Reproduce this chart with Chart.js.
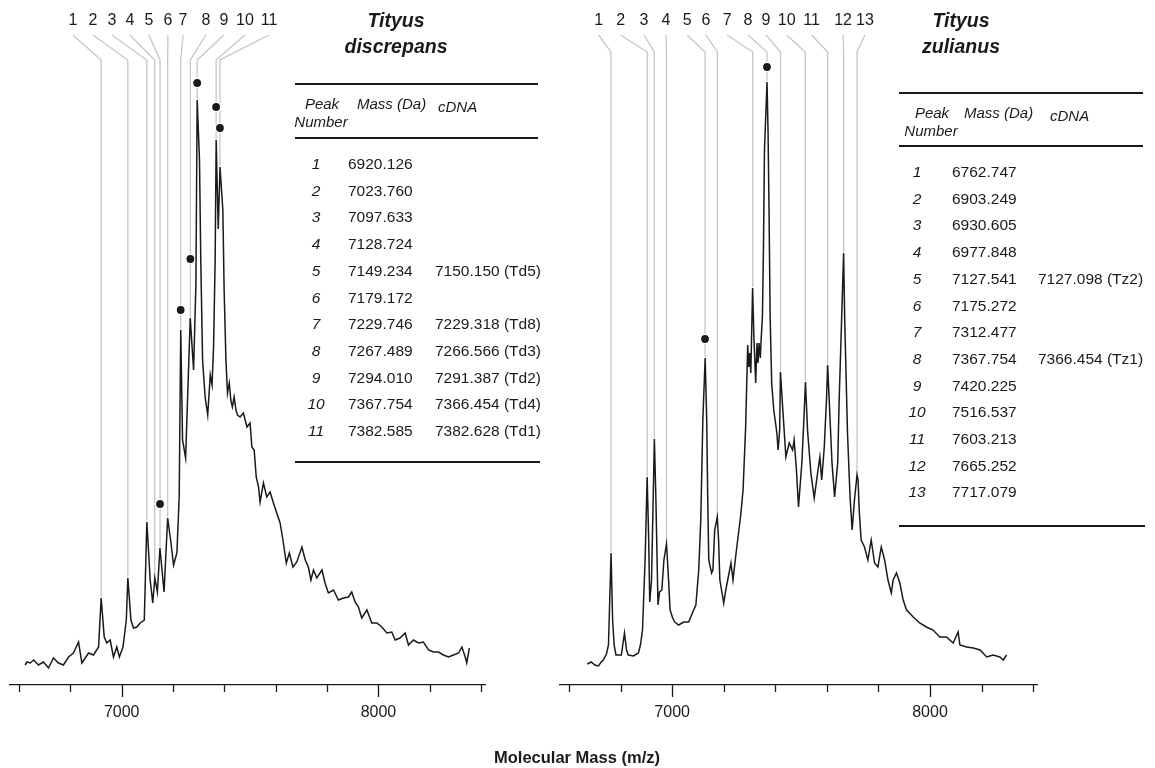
<!DOCTYPE html>
<html>
<head>
<meta charset="utf-8">
<script src="https://cdn.jsdelivr.net/npm/chart.js@4.4.1/dist/chart.umd.min.js"></script>
<style>
  body { margin: 0; background: #fff; }
  #page { position: relative; width: 1155px; height: 768px; overflow: hidden;
          font-family: "Liberation Sans", Arial, Helvetica, sans-serif; color: #1a1a1a; }
  canvas { position: absolute; top: 0; }
  .t { position: absolute; white-space: nowrap; line-height: 1; }
  .title { font-size: 19.5px; font-weight: bold; font-style: italic; }
  .head { font-size: 15px; font-style: italic; }
  .num { font-size: 15.5px; font-style: italic; }
  .val { font-size: 15.5px; }
  .axis { font-size: 16.5px; font-weight: bold; }
  .rule { position: absolute; background: #1a1a1a; }
</style>
</head>
<body>
<div id="page">
  <canvas id="leftChart" width="545" height="768" style="left:0"></canvas>
  <canvas id="rightChart" width="610" height="768" style="left:545px"></canvas>
</div>
<script>
// x axis
const tickValues = [6600, 6800, 7000, 7200, 7400, 7600, 7800, 8000, 8200, 8400];
const massMin = 6565;
const massMax = 8415;
const intensityMax = 640;

// Tityus discrepans spectrum (m/z, relative intensity)
const leftMass = [6624, 6631, 6644, 6657, 6676, 6695, 6715, 6734, 6754, 6773, 6793, 6812, 6832, 6845, 6858, 6871, 6890, 6910,
  6920, 6932, 6942, 6955, 6968, 6981, 6991, 7005, 7018, 7024, 7036, 7046, 7059, 7072, 7088, 7098, 7111, 7121, 7129, 7139,
  7149, 7165, 7179, 7192, 7202, 7215, 7224, 7230, 7237, 7249, 7267, 7280, 7289, 7294, 7303, 7308, 7315, 7325, 7335, 7345,
  7352, 7358, 7364, 7368, 7376, 7383, 7394, 7399, 7406, 7412, 7419, 7425, 7431, 7438, 7445, 7451, 7461, 7474, 7488, 7500,
  7507, 7516, 7524, 7533, 7539, 7552, 7565, 7578, 7591, 7604, 7617, 7628, 7641, 7653, 7667, 7682, 7702, 7715, 7727, 7737,
  7747, 7760, 7780, 7792, 7805, 7825, 7844, 7864, 7883, 7896, 7909, 7922, 7935, 7955, 7974, 7994, 8013, 8033, 8052, 8065,
  8084, 8104, 8117, 8136, 8156, 8175, 8195, 8214, 8234, 8253, 8273, 8292, 8312, 8325, 8338, 8344, 8354];
const leftIntensity = [20, 23, 22, 25, 20, 23, 17, 27, 22, 20, 28, 32, 43, 22, 27, 32, 30, 38,
  87, 48, 42, 45, 28, 38, 28, 38, 65, 107, 65, 57, 58, 62, 65, 163, 105, 82, 107, 93,
  137, 93, 167, 142, 120, 132, 188, 355, 245, 227, 367, 315, 400, 585, 525, 425, 325, 288, 270, 310,
  300, 340, 425, 545, 456, 518, 475, 395, 325, 292, 302, 285, 278, 288, 275, 270, 268, 272, 258, 262,
  238, 235, 208, 198, 183, 202, 188, 193, 182, 172, 162, 145, 122, 132, 118, 123, 138, 125, 118, 105,
  115, 107, 115, 102, 92, 95, 85, 87, 88, 93, 83, 78, 67, 75, 62, 62, 58, 52, 53, 45,
  47, 52, 40, 45, 42, 43, 35, 33, 33, 30, 28, 30, 32, 38, 28, 22, 37];

// Tityus zulianus spectrum
const rightMass = [6671, 6686, 6700, 6714, 6725, 6733, 6745, 6753, 6763, 6769, 6775, 6782, 6792, 6803, 6815, 6823, 6830, 6850,
  6869, 6877, 6885, 6895, 6903, 6909, 6913, 6920, 6931, 6937, 6945, 6951, 6960, 6968, 6978, 6984, 6992, 7002, 7010, 7025,
  7045, 7064, 7080, 7092, 7103, 7111, 7119, 7128, 7134, 7138, 7142, 7153, 7158, 7165, 7175, 7180, 7185, 7200, 7208, 7228,
  7236, 7247, 7266, 7275, 7285, 7293, 7297, 7301, 7305, 7312, 7317, 7324, 7329, 7333, 7337, 7342, 7345, 7350, 7354, 7358,
  7368, 7372, 7376, 7380, 7386, 7394, 7402, 7406, 7411, 7417, 7420, 7430, 7441, 7454, 7467, 7473, 7482, 7490, 7503, 7512,
  7517, 7525, 7538, 7551, 7564, 7573, 7580, 7590, 7599, 7603, 7609, 7620, 7630, 7642, 7648, 7656, 7665, 7669, 7680, 7690,
  7698, 7707, 7717, 7721, 7726, 7733, 7746, 7759, 7772, 7785, 7798, 7811, 7824, 7837, 7850, 7857, 7870, 7883, 7896, 7909,
  7935, 7960, 7986, 8012, 8038, 8064, 8090, 8109, 8116, 8142, 8168, 8194, 8220, 8245, 8271, 8284, 8297];
const rightIntensity = [21, 23, 20, 19, 23, 25, 31, 40, 132, 65, 40, 30, 30, 30, 52, 35, 30, 29,
  32, 40, 55, 125, 208, 145, 83, 105, 246, 185, 80, 93, 95, 125, 141, 115, 75, 67, 63, 60,
  63, 63, 73, 80, 115, 165, 265, 327, 265, 185, 125, 112, 115, 155, 168, 145, 105, 82, 95, 122,
  105, 130, 170, 195, 258, 340, 318, 332, 312, 397, 348, 302, 342, 322, 342, 327, 345, 368, 435, 535,
  603, 552, 468, 368, 302, 275, 260, 252, 235, 255, 313, 272, 228, 242, 235, 245, 215, 178, 222, 272,
  303, 255, 212, 187, 212, 228, 205, 238, 288, 320, 285, 222, 188, 222, 288, 355, 432, 368, 252, 188,
  155, 185, 210, 205, 172, 145, 138, 125, 145, 122, 118, 138, 125, 105, 92, 105, 112, 102, 85, 75,
  68, 62, 58, 55, 48, 48, 42, 53, 40, 38, 37, 35, 28, 30, 28, 25, 30];

// peak tables
const leftPeaks = [6920.126, 7023.760, 7097.633, 7128.724, 7149.234, 7179.172, 7229.746, 7267.489, 7294.010, 7367.754, 7382.585];
const leftCdna = ["", "", "", "", "7150.150 (Td5)", "", "7229.318 (Td8)", "7266.566 (Td3)", "7291.387 (Td2)", "7366.454 (Td4)", "7382.628 (Td1)"];
const leftDotHeight = [181, 375, 426, 602, 578, 557];

const rightPeaks = [6762.747, 6903.249, 6930.605, 6977.848, 7127.541, 7175.272, 7312.477, 7367.754, 7420.225, 7516.537, 7603.213, 7665.252, 7717.079];
const rightCdna = ["", "", "", "", "7127.098 (Tz2)", "", "", "7366.454 (Tz1)", "", "", "", "", ""];
const rightDotHeight = [346, 618];

// where the peak numbers sit along the top (m/z units)
const leftLabelSlots = [6810, 6888, 6962, 7032, 7106, 7180, 7239, 7328, 7398, 7480, 7574];
const rightLabelSlots = [6715, 6800, 6891, 6976, 7058, 7131, 7213, 7294, 7364, 7444, 7541, 7663, 7748];

const page = document.getElementById("page");
Chart.defaults.font.family = '"Liberation Sans", Arial, Helvetica, sans-serif';
Chart.defaults.color = "#1a1a1a";

function put(text, x, y, cls, align) {
  const d = document.createElement("div");
  d.className = "t " + cls;
  d.textContent = text;
  d.style.left = x + "px";
  d.style.top = y + "px";
  d.style.transform = align === "c" ? "translate(-50%,-50%)" : "translate(0,-50%)";
  page.appendChild(d);
}

function rule(x1, x2, y, h) {
  const d = document.createElement("div");
  d.className = "rule";
  d.style.left = x1 + "px";
  d.style.width = (x2 - x1) + "px";
  d.style.top = (y - h / 2) + "px";
  d.style.height = h + "px";
  page.appendChild(d);
}

function nearestIntensity(masses, values, m) {
  let best = 0;
  for (let i = 1; i < masses.length; i++) {
    if (Math.abs(masses[i] - m) < Math.abs(masses[best] - m)) best = i;
  }
  return values[best];
}

const peakLines = {
  id: "peakLines",
  beforeDatasetsDraw(chart, args, opts) {
    const { ctx, scales: { x, y } } = chart;
    ctx.save();
    ctx.strokeStyle = "#c6c6c6";
    ctx.lineWidth = 1.3;
    ctx.fillStyle = "#1a1a1a";
    ctx.font = '16px "Liberation Sans", Arial, sans-serif';
    ctx.textAlign = "center";
    ctx.textBaseline = "middle";
    opts.peaks.forEach((m, i) => {
      const px = x.getPixelForValue(m);
      const apex = nearestIntensity(opts.mass, opts.intensity, m);
      const lx = x.getPixelForValue(opts.slots[i]);
      ctx.beginPath();
      ctx.moveTo(px, y.getPixelForValue(apex) - 1);
      ctx.lineTo(px, y.getPixelForValue(opts.bend));
      ctx.lineTo(lx, y.getPixelForValue(opts.slantTop));
      ctx.stroke();
      ctx.fillText(String(i + 1), lx, y.getPixelForValue(opts.labelAt));
    });
    ctx.restore();
  },
  afterDraw(chart) {
    const { ctx, chartArea, scales: { x } } = chart;
    ctx.save();
    ctx.strokeStyle = "#1a1a1a";
    ctx.lineWidth = 1.3;
    ctx.beginPath();
    x.ticks.forEach(t => {
      const px = Math.round(x.getPixelForValue(t.value)) + 0.5;
      const len = t.value % 1000 === 0 ? 12 : 7;
      ctx.moveTo(px, chartArea.bottom);
      ctx.lineTo(px, chartArea.bottom + len);
    });
    ctx.stroke();
    ctx.restore();
  }
};

function drawPanel(canvasId, mass, intensity, peaks, cdna, dotHeight, slots, padding, bend) {
  const dotMass = peaks.filter((p, i) => cdna[i] !== "");
  const ctx = document.getElementById(canvasId).getContext("2d");
  new Chart(ctx, {
    type: "line",
    data: {
      datasets: [
        {
          data: mass.map((m, i) => ({ x: m, y: intensity[i] })),
          borderColor: "#1a1a1a",
          borderWidth: 1.5,
          pointRadius: 0,
          tension: 0,
          fill: false
        },
        {
          data: dotMass.map((m, i) => ({ x: m, y: dotHeight[i] })),
          showLine: false,
          pointRadius: 4.6,
          pointBackgroundColor: "#1a1a1a",
          pointBorderColor: "#ffffff",
          pointBorderWidth: 1.4
        }
      ]
    },
    options: {
      responsive: false,
      animation: false,
      events: [],
      layout: { padding: padding },
      plugins: {
        legend: { display: false },
        tooltip: { enabled: false },
        peakLines: {
          peaks: peaks, slots: slots, mass: mass, intensity: intensity,
          bend: bend, slantTop: 650, labelAt: 664
        }
      },
      scales: {
        x: {
          type: "linear",
          min: massMin,
          max: massMax,
          afterBuildTicks: scale => { scale.ticks = tickValues.map(v => ({ value: v })); },
          afterFit: scale => { scale.height = 40; },
          ticks: {
            autoSkip: false,
            maxRotation: 0,
            padding: 18,
            font: { size: 16 },
            color: "#1a1a1a",
            callback: v => (v % 1000 === 0 ? String(v) : "")
          },
          grid: { display: true, drawOnChartArea: false, drawTicks: false },
          border: { display: true, color: "#1a1a1a", width: 1.3 }
        },
        y: {
          display: false,
          min: 0,
          max: intensityMax
        }
      }
    },
    plugins: [peakLines]
  });
}

function drawTable(peaks, cdna, L) {
  put("Tityus", L.titleX, 21, "title", "c");
  put(L.species, L.titleX, 47, "title", "c");
  rule(L.ruleX1, L.ruleX2, L.topRule, 2.5);
  put("Peak", L.peakX, L.headY, "head", "c");
  put("Number", L.peakX - 1, L.headY + 18, "head", "c");
  put("Mass (Da)", L.massHeadX, L.headY, "head", "l");
  put("cDNA", L.cdnaHeadX, L.headY + 3, "head", "l");
  rule(L.ruleX1, L.ruleX2, L.midRule, 1.5);
  peaks.forEach((p, i) => {
    const y = L.firstRow + i * 26.7;
    put(String(i + 1), L.numX, y, "num", "c");
    put(p.toFixed(3), L.massX, y, "val", "l");
    if (cdna[i]) put(cdna[i], L.cdnaX, y, "val", "l");
  });
  rule(L.ruleX1, L.ruleX2 + 2, L.bottomRule, 2.5);
}

drawPanel("leftChart", leftMass, leftIntensity, leftPeaks, leftCdna, leftDotHeight, leftLabelSlots,
  { left: 10, right: 60, top: 45, bottom: 43 }, 625);
drawPanel("rightChart", rightMass, rightIntensity, rightPeaks, rightCdna, rightDotHeight, rightLabelSlots,
  { left: 15, right: 118, top: 45, bottom: 43 }, 633);

drawTable(leftPeaks, leftCdna, {
  species: "discrepans", titleX: 396, ruleX1: 295, ruleX2: 538, topRule: 84, midRule: 138, bottomRule: 462,
  peakX: 322, headY: 103, massHeadX: 357, cdnaHeadX: 438, numX: 316, massX: 348, cdnaX: 435, firstRow: 164
});
drawTable(rightPeaks, rightCdna, {
  species: "zulianus", titleX: 961, ruleX1: 899, ruleX2: 1143, topRule: 93, midRule: 146, bottomRule: 526,
  peakX: 932, headY: 112, massHeadX: 964, cdnaHeadX: 1050, numX: 917, massX: 952, cdnaX: 1038, firstRow: 172
});

put("Molecular Mass (m/z)", 577, 757, "axis", "c");
</script>
</body>
</html>
